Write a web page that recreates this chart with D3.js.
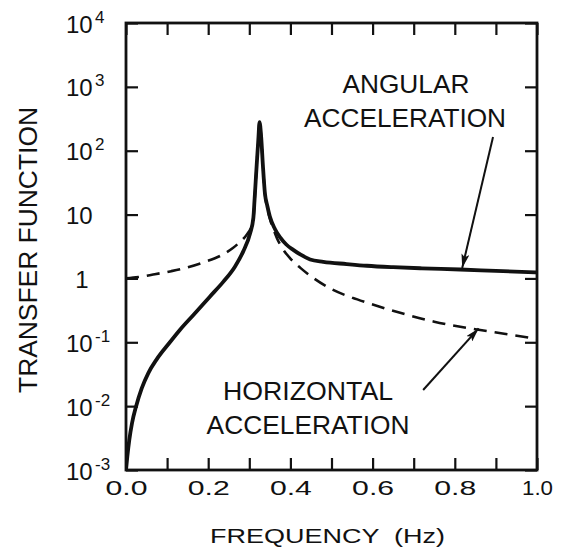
<!DOCTYPE html>
<html>
<head>
<meta charset="utf-8">
<script src="https://cdn.jsdelivr.net/npm/d3@7"></script>
<style>
  html, body { margin: 0; padding: 0; background: #fff; }
  svg { display: block; }
  text { font-family: "Liberation Sans", Arial, sans-serif; fill: #111; }
</style>
</head>
<body>
<svg id="chart" width="563" height="550"></svg>
<script>
// ---------------- data ----------------
const angularFreq = [0.000, 0.0032, 0.008, 0.0146, 0.0243, 0.0382, 0.0543, 0.0746, 0.1054, 0.131, 0.164, 0.204, 0.237, 0.265, 0.285, 0.302, 0.310, 0.313, 0.318, 0.322, 0.325, 0.329, 0.333, 0.338, 0.344, 0.350, 0.362, 0.375, 0.390, 0.407, 0.425, 0.448, 0.480, 0.537, 0.586, 0.650, 0.720, 0.813, 0.900, 1.000];
const angularValue = [0.001, 0.00162, 0.00295, 0.0054, 0.0098, 0.019, 0.033, 0.054, 0.0975, 0.156, 0.268, 0.518, 0.89, 1.53, 2.63, 5.1, 9.0, 18, 60, 150, 280, 160, 60, 21.5, 13.5, 9.3, 6.0, 4.4, 3.4, 2.8, 2.35, 1.98, 1.82, 1.68, 1.58, 1.50, 1.44, 1.38, 1.31, 1.24];

const horizFreq = [0.000, 0.030, 0.066, 0.110, 0.148, 0.190, 0.229, 0.260, 0.277, 0.290, 0.298, 0.306, 0.310, 0.313, 0.318, 0.322, 0.325, 0.329, 0.333, 0.338, 0.344, 0.350, 0.360, 0.367, 0.380, 0.400, 0.425, 0.450, 0.500, 0.550, 0.590, 0.667, 0.750, 0.850, 0.920, 1.000];
const horizValue = [1.00, 1.05, 1.15, 1.30, 1.48, 1.80, 2.25, 3.0, 3.7, 4.5, 5.3, 6.6, 8.4, 17, 60, 150, 280, 160, 60, 21, 12.5, 8.6, 5.6, 4.3, 3.0, 2.05, 1.45, 1.08, 0.68, 0.50, 0.41, 0.29, 0.21, 0.16, 0.136, 0.113];

const xTickValues = [0, 0.1, 0.2, 0.3, 0.4, 0.5, 0.6, 0.7, 0.8, 0.9, 1.0];
const xTickLabels = ["0.0", "", "0.2", "", "0.4", "", "0.6", "", "0.8", "", "1.0"];

const yTickValues = [1e-3, 1e-2, 1e-1, 1, 10, 1e2, 1e3, 1e4];
const yTickBase   = ["10", "10", "10", "1", "10", "10", "10", "10"];
const yTickExp    = ["-3", "-2", "-1", "", "", "2", "3", "4"];

const xTitle = "FREQUENCY  (Hz)";
const yTitle = "TRANSFER FUNCTION";

// annotation labels: [text, freq, value]
const labelText  = ["ANGULAR", "ACCELERATION", "HORIZONTAL", "ACCELERATION"];
const labelFreq  = [0.681, 0.679, 0.443, 0.443];
const labelValue = [800, 235, 0.0124, 0.00365];
const labelWidth = [127, 202, 170, 203];

// arrows: from (freq, value) to (freq, value)
const arrowFromF = [0.893, 0.723];
const arrowFromV = [164, 0.0179];
const arrowToF   = [0.818, 0.858];
const arrowToV   = [1.46, 0.165];

// ---------------- layout ----------------
const L = 126, R = 537, T = 23, B = 470;
const FONT = "'Liberation Sans', Arial, sans-serif";
const svg = d3.select("#chart");

const x = d3.scaleLinear().domain([0, 1]).range([L, R]);
const y = d3.scaleLog().domain([1e-3, 1e4]).range([B, T]);

// curves
const line = d3.line()
  .x(d => x(d[0]))
  .y(d => y(d[1]))
  .curve(d3.curveMonotoneX);

const angular = angularFreq.map((f, i) => [f, angularValue[i]]);
const horiz = horizFreq.map((f, i) => [f, horizValue[i]]);

svg.append("clipPath").attr("id", "clip")
  .append("rect").attr("x", L).attr("y", T - 2).attr("width", R - L).attr("height", B - T + 2);

svg.append("path")
  .attr("d", line(horiz))
  .attr("fill", "none")
  .attr("stroke", "#111")
  .attr("stroke-width", 2.6)
  .attr("stroke-dasharray", "13,8")
  .attr("clip-path", "url(#clip)");

svg.append("path")
  .attr("d", line(angular))
  .attr("fill", "none")
  .attr("stroke", "#111")
  .attr("stroke-width", 3.8)
  .attr("stroke-linejoin", "round")
  .attr("clip-path", "url(#clip)");

// axes
const tickLen = 12;
const gx = svg.append("g").attr("transform", `translate(0,${B})`)
  .call(d3.axisBottom(x).tickValues(xTickValues)
    .tickFormat((d, i) => xTickLabels[i])
    .tickSizeInner(-tickLen).tickSizeOuter(0));
gx.selectAll(".tick text").each(function(d, i) {
  const t = d3.select(this);
  t.attr("y", 25).attr("dy", null).attr("fill", "#111")
   .style("font-size", "20px").style("font-family", FONT);
  if (xTickLabels[i]) {
    t.attr("textLength", xTickLabels[i].startsWith("1") ? 31 : 42)
     .attr("lengthAdjust", "spacingAndGlyphs");
  }
});

const gxt = svg.append("g").attr("transform", `translate(0,${T})`)
  .call(d3.axisTop(x).tickValues(xTickValues).tickFormat("")
    .tickSizeInner(-tickLen).tickSizeOuter(0));

const gy = svg.append("g").attr("transform", `translate(${L},0)`)
  .call(d3.axisLeft(y).tickValues(yTickValues).tickFormat(() => "")
    .tickSizeInner(-tickLen).tickSizeOuter(0));

const gyr = svg.append("g").attr("transform", `translate(${R},0)`)
  .call(d3.axisRight(y).tickValues(yTickValues).tickFormat("")
    .tickSizeInner(-tickLen).tickSizeOuter(0));

[gx, gxt, gy, gyr].forEach(g => {
  g.select(".domain").remove();
  g.selectAll(".tick line").attr("stroke", "#111").attr("stroke-width", 2.2);
});

// custom y tick labels (base "10" plus superscript exponent)
gy.selectAll(".tick").each(function(d, i) {
  const tick = d3.select(this);
  const t = tick.select("text");
  t.attr("dy", null).attr("y", 9).attr("fill", "#111")
   .style("font-family", FONT).style("font-size", "24px");
  if (yTickBase[i] === "1") {
    t.attr("x", 82 - L).attr("text-anchor", "middle").text("1");
  } else {
    t.attr("x", 66 - L).attr("text-anchor", "start").text(yTickBase[i]);
    if (yTickExp[i]) {
      tick.append("text")
        .attr("x", 95 - L).attr("y", -1)
        .attr("text-anchor", "start")
        .attr("fill", "#111")
        .style("font-family", FONT).style("font-size", "17px")
        .text(yTickExp[i]);
    }
  }
});

// frame
svg.append("rect")
  .attr("x", x(0)).attr("y", y(1e4))
  .attr("width", x(1) - x(0)).attr("height", y(1e-3) - y(1e4))
  .attr("fill", "none").attr("stroke", "#111").attr("stroke-width", 2.8);

// axis titles
svg.append("text")
  .attr("x", 327.5).attr("y", 543)
  .attr("text-anchor", "middle")
  .attr("textLength", 235).attr("lengthAdjust", "spacingAndGlyphs")
  .style("font-size", "21px").style("white-space", "pre")
  .text(xTitle);

svg.append("text")
  .attr("transform", "translate(37,250) rotate(-90)")
  .attr("text-anchor", "middle")
  .attr("textLength", 286).attr("lengthAdjust", "spacingAndGlyphs")
  .style("font-size", "26px")
  .text(yTitle);

// annotations
labelText.forEach((s, i) => {
  svg.append("text")
    .attr("x", x(labelFreq[i])).attr("y", y(labelValue[i]))
    .attr("text-anchor", "middle")
    .attr("textLength", labelWidth[i]).attr("lengthAdjust", "spacingAndGlyphs")
    .style("font-size", "25px")
    .text(s);
});

svg.append("defs").append("marker")
  .attr("id", "arrowhead")
  .attr("viewBox", "0 0 14 8")
  .attr("refX", 14).attr("refY", 4)
  .attr("markerWidth", 14).attr("markerHeight", 8)
  .attr("markerUnits", "userSpaceOnUse")
  .attr("orient", "auto")
  .append("path").attr("d", "M0,0 L14,4 L0,8 L3,4 Z").attr("fill", "#111");

arrowFromF.forEach((f, i) => {
  svg.append("line")
    .attr("x1", x(f)).attr("y1", y(arrowFromV[i]))
    .attr("x2", x(arrowToF[i])).attr("y2", y(arrowToV[i]))
    .attr("stroke", "#111").attr("stroke-width", 2)
    .attr("marker-end", "url(#arrowhead)");
});
</script>
</body>
</html>
